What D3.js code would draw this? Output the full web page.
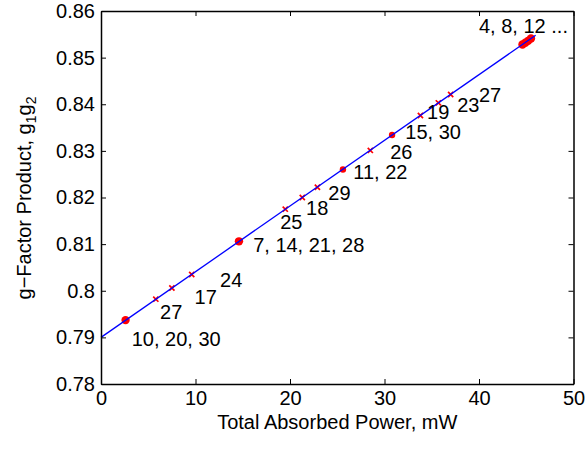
<!DOCTYPE html>
<html><head><meta charset="utf-8">
<script src="https://cdn.jsdelivr.net/npm/d3@7/dist/d3.min.js"></script>
<style>
html,body{margin:0;padding:0;background:#fff;}
svg{display:block;font-family:"Liberation Sans",Arial,Helvetica,sans-serif;}
</style></head>
<body><svg id="c" width="587" height="450"></svg>
<script>
// ---- data ----
const xTicks = [0, 10, 20, 30, 40, 50];
const yTicks = [0.78, 0.79, 0.8, 0.81, 0.82, 0.83, 0.84, 0.85, 0.86];
const yTickLabels = ["0.78", "0.79", "0.8", "0.81", "0.82", "0.83", "0.84", "0.85", "0.86"];
// fitted line
const fitX = [0, 46.0];
const fitY = [0.7900, 0.8548];
// single days (x markers)
const singleX = [5.8, 7.5, 9.6, 19.5, 21.3, 22.9, 28.5, 33.8, 35.7, 37.0];
const singleY = [0.7982, 0.8006, 0.8035, 0.8175, 0.8200, 0.8222, 0.8301, 0.8376, 0.8403, 0.8421];
// coincident days (blobs)
const groupX = [2.6, 14.6, 25.6, 30.8, 44.6, 44.9, 45.2, 45.5];
const groupY = [0.7937, 0.8106, 0.8260, 0.8334, 0.8528, 0.8532, 0.8536, 0.8541];
const groupSize = [3, 4, 2, 2, 6, 6, 6, 6];
// day labels
const labelText = ["10, 20, 30", "27", "17", "24", "7, 14, 21, 28", "25", "18", "29", "11, 22", "26", "15, 30", "19", "23", "27", "4, 8, 12 ..."];
const labelX = [3.25, 6.25, 9.9, 12.6, 16.1, 18.96, 21.7, 24.05, 26.7, 30.6, 32.2, 34.5, 37.7, 40.0, 40.0];
const labelY = [0.7897, 0.7954, 0.7987, 0.8023, 0.8098, 0.8148, 0.8178, 0.8210, 0.8255, 0.8298, 0.8340, 0.8383, 0.8398, 0.8420, 0.8568];

// ---- layout ----
const W = 587, H = 450;
const L = 101, R = 573.5, T = 11, B = 384;
const FS = 20;
const svg = d3.select("#c");
const x = d3.scaleLinear().domain([0, 50]).range([L, R]);
const y = d3.scaleLinear().domain([0.78, 0.86]).range([B, T]);

svg.append("rect").attr("width", W).attr("height", H).attr("fill", "#fff");

const xm = 2.6;
svg.append("g").selectAll("path").data(singleX).join("path")
  .attr("d", (d, i) => {
    const cx = x(d), cy = y(singleY[i]);
    return `M${cx - xm},${cy - xm}L${cx + xm},${cy + xm}M${cx - xm},${cy + xm}L${cx + xm},${cy - xm}`;
  })
  .attr("stroke", "#ff0000").attr("stroke-width", 1.7).attr("fill", "none");

svg.append("g").selectAll("circle").data(groupX).join("circle")
  .attr("cx", d => x(d)).attr("cy", (d, i) => y(groupY[i]))
  .attr("r", (d, i) => groupSize[i] >= 3 ? 4.2 : 3.2)
  .attr("fill", "#ff0000");

const lineGen = d3.line().x(d => x(d[0])).y(d => y(d[1]));
svg.append("path").datum(fitX.map((d, i) => [d, fitY[i]]))
  .attr("d", lineGen).attr("stroke", "#0000ff").attr("stroke-width", 1.3).attr("fill", "none");

// labels
svg.append("g").selectAll("text").data(labelText).join("text")
  .attr("x", (d, i) => x(labelX[i])).attr("y", (d, i) => y(labelY[i]))
  .attr("dy", "0.35em").attr("font-size", FS).attr("fill", "#000")
  .text(d => d);

// axes
const ax = svg.append("g");
const axB = d3.axisBottom(x).tickValues(xTicks).tickSize(-5).tickSizeOuter(0).tickPadding(7).tickFormat(d3.format("d"));
const axT = d3.axisTop(x).tickValues(xTicks).tickSize(-5).tickSizeOuter(0).tickFormat("");
const axL = d3.axisLeft(y).tickValues(yTicks).tickSize(-5).tickSizeOuter(0).tickPadding(6).tickFormat((d, i) => yTickLabels[i]);
const axR = d3.axisRight(y).tickValues(yTicks).tickSize(-5).tickSizeOuter(0).tickFormat("");
ax.append("g").attr("transform", `translate(0,${B})`).call(axB);
ax.append("g").attr("transform", `translate(0,${T})`).call(axT);
ax.append("g").attr("transform", `translate(${L},0)`).call(axL);
ax.append("g").attr("transform", `translate(${R},0)`).call(axR);
ax.selectAll("path.domain").attr("stroke", "#000").attr("stroke-width", 1.5);
ax.selectAll(".tick line").attr("stroke", "#000").attr("stroke-width", 1);
ax.selectAll(".tick text").attr("font-size", FS).attr("fill", "#000")
  .attr("font-family", '"Liberation Sans",Arial,Helvetica,sans-serif');

// axis titles
svg.append("text").attr("x", (L + R) / 2).attr("y", 429).attr("text-anchor", "middle")
  .attr("font-size", FS).text("Total Absorbed Power, mW");

const yl = svg.append("text").attr("transform", "translate(31,198) rotate(-90)")
  .attr("text-anchor", "middle").attr("font-size", FS);
yl.append("tspan").text("g\u2212Factor Product, g");
yl.append("tspan").attr("font-size", 14).attr("dy", 5).text("1");
yl.append("tspan").attr("dy", -5).text("g");
yl.append("tspan").attr("font-size", 14).attr("dy", 5).text("2");
</script></body></html>
